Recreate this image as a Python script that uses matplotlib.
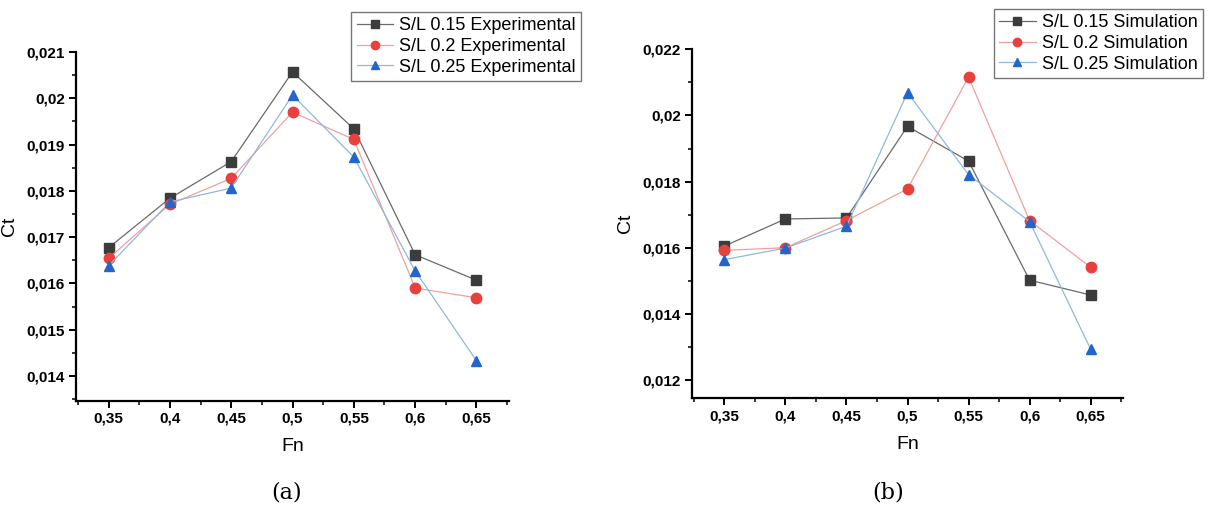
import matplotlib
matplotlib.use("Agg")
import matplotlib.pyplot as plt
from matplotlib.ticker import MultipleLocator, FuncFormatter

fn = [0.35, 0.40, 0.45, 0.50, 0.55, 0.60, 0.65]
xtick_labels = ["0,35", "0,4", "0,45", "0,5", "0,55", "0,6", "0,65"]

exp_015 = [0.01677, 0.01784, 0.01863, 0.02057, 0.01934, 0.01662, 0.01607]
exp_020 = [0.01654, 0.01771, 0.01827, 0.01970, 0.01911, 0.01590, 0.01569]
exp_025 = [0.01638, 0.01776, 0.01806, 0.02007, 0.01873, 0.01627, 0.01433]

sim_015 = [0.01605, 0.01687, 0.01690, 0.01967, 0.01862, 0.01502, 0.01457]
sim_020 = [0.01592, 0.01600, 0.01682, 0.01778, 0.02116, 0.01682, 0.01541]
sim_025 = [0.01564, 0.01599, 0.01665, 0.02069, 0.01821, 0.01679, 0.01293]

labels_exp = ["S/L 0.15 Experimental", "S/L 0.2 Experimental", "S/L 0.25 Experimental"]
labels_sim = ["S/L 0.15 Simulation", "S/L 0.2 Simulation", "S/L 0.25 Simulation"]

styles = [
    dict(marker="s", color="#6a6a6a", mfc="#3c3c3c", mec="#3c3c3c", ms=7),
    dict(marker="o", color="#f0a0a0", mfc="#e8403c", mec="#e8403c", ms=7.5),
    dict(marker="^", color="#8fb8e0", mfc="#2266cc", mec="#2266cc", ms=7.5),
]

tick_font = ["Liberation Sans", "DejaVu Sans"]
lab_font = ["Liberation Sans", "DejaVu Sans"]

fig = plt.figure(figsize=(12.08, 5.09), dpi=100)
ax1 = fig.add_axes([76 / 1208, 1 - 400.7 / 509, 433 / 1208, 348.7 / 509])
ax2 = fig.add_axes([692 / 1208, 1 - 398.3 / 509, 431 / 1208, 349 / 509])


def comma(v, pos):
    s = ("%.3f" % v).rstrip("0").rstrip(".")
    return s.replace(".", ",")


def setup(ax, ylim, ymaj, ymin):
    ax.set_xlim(0.3235, 0.6765)
    ax.set_ylim(*ylim)
    for s in ["top", "right"]:
        ax.spines[s].set_visible(False)
    for s in ["left", "bottom"]:
        ax.spines[s].set_linewidth(1.6)
    ax.set_xticks(fn)
    ax.set_xticklabels(xtick_labels)
    ax.set_xticks([0.325, 0.375, 0.425, 0.475, 0.525, 0.575, 0.625, 0.675], minor=True)
    ax.yaxis.set_major_locator(MultipleLocator(ymaj))
    ax.yaxis.set_minor_locator(MultipleLocator(ymin))
    ax.yaxis.set_major_formatter(FuncFormatter(comma))
    ax.tick_params(which="major", direction="out", length=5, width=1.4, labelsize=11, pad=3)
    ax.tick_params(which="minor", direction="out", length=3, width=1.1)
    for lab in ax.get_xticklabels() + ax.get_yticklabels():
        lab.set_family(tick_font)
        lab.set_fontweight("bold")
    ax.set_xlabel("Fn", fontsize=14, family=lab_font, labelpad=9)
    ax.set_ylabel("Ct", fontsize=14, family=lab_font, labelpad=6)


for data, lab, st in zip([exp_015, exp_020, exp_025], labels_exp, styles):
    ax1.plot(fn, data, lw=0.9, label=lab, **st)
for data, lab, st in zip([sim_015, sim_020, sim_025], labels_sim, styles):
    ax2.plot(fn, data, lw=0.9, label=lab, **st)

setup(ax1, (0.013467, 0.021), 0.001, 0.0005)
setup(ax2, (0.011447, 0.022), 0.002, 0.001)

leg_kw = dict(frameon=True, fancybox=False, edgecolor="#777777", framealpha=1,
              handlelength=2.0, handletextpad=0.35, borderpad=0.3, labelspacing=0.2,
              markerscale=0.8, borderaxespad=0,
              prop={"family": ["Liberation Sans", "DejaVu Sans"], "size": 13},
              bbox_transform=fig.transFigure)
l1 = ax1.legend(loc="upper right", bbox_to_anchor=(581 / 1208, 1 - 12 / 509), **leg_kw)
l2 = ax2.legend(loc="upper right", bbox_to_anchor=(1203 / 1208, 1 - 9 / 509), **leg_kw)
for l in (l1, l2):
    l.get_frame().set_linewidth(1.0)

fig.text(287 / 1208, 1 - 493 / 509, "(a)", ha="center", va="center", fontsize=16,
         family=["DejaVu Serif"])
fig.text(888 / 1208, 1 - 493 / 509, "(b)", ha="center", va="center", fontsize=16,
         family=["DejaVu Serif"])

fig.savefig("out.png", dpi=100)
